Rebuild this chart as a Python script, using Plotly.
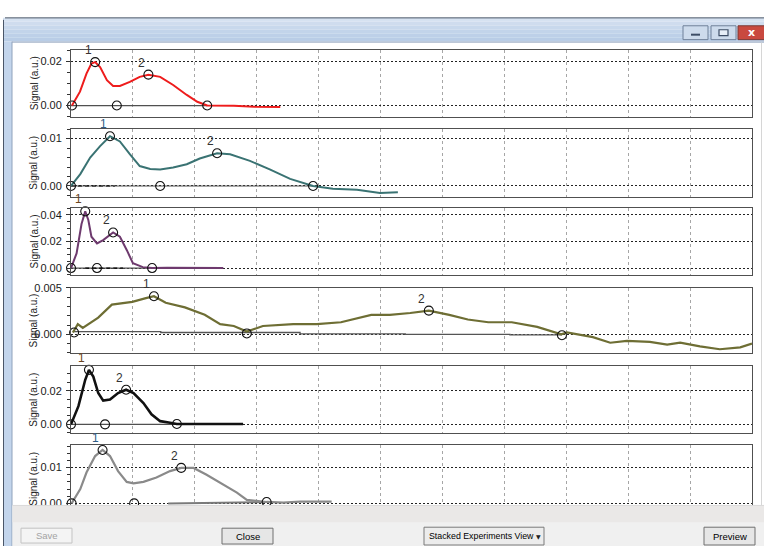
import plotly.graph_objects as go

W, H = 764, 546

# ---------------- data ----------------
# Panel 1 (red)
p1_x = [0.016, 0.145, 0.25, 0.33, 0.39, 0.47, 0.58, 0.68, 0.79, 0.95, 1.11, 1.25, 1.44, 1.65, 1.87, 2.04, 2.2, 2.63, 2.96, 3.38]
p1_y = [0, 0.0063, 0.0145, 0.019, 0.0197, 0.0174, 0.0115, 0.0089, 0.0089, 0.0107, 0.013, 0.014, 0.013, 0.0093, 0.0048, 0.0017, 0.0, -0.0001, -0.0006, -0.0007]
p1_mx = [0.016, 0.39, 0.74, 1.25, 2.2]
p1_my = [0, 0.0197, 0, 0.014, 0]
p1_bx = [0, 2.2]
p1_by = [0, 0]

# Panel 2 (teal)
p2_x = [0.0, 0.15, 0.31, 0.47, 0.63, 0.79, 0.95, 1.11, 1.28, 1.44, 1.65, 1.87, 2.08, 2.36, 2.57, 2.89, 3.21, 3.54, 3.91, 4.23, 4.62, 4.99, 5.28]
p2_y = [0, 0.0025, 0.006, 0.0084, 0.0105, 0.0094, 0.0067, 0.0042, 0.0036, 0.0035, 0.0039, 0.0046, 0.0058, 0.0069, 0.0067, 0.0053, 0.0035, 0.0015, 0.0, -0.0006, -0.0008, -0.0015, -0.0013]
p2_mx = [0.0, 0.63, 1.44, 2.36, 3.91]
p2_my = [0, 0.0105, 0, 0.0069, 0]
p2_bx = [0, 3.91]
p2_by = [0, 0]
p2_dx = [0, 0.71]
p2_dy = [0, 0]

# Panel 3 (purple)
p3_x = [0, 0.09, 0.17, 0.23, 0.28, 0.33, 0.42, 0.52, 0.68, 0.79, 0.9, 1.0, 1.16, 1.31, 1.55, 1.87, 2.2, 2.46]
p3_y = [0, 0.011, 0.033, 0.0425, 0.036, 0.0235, 0.0185, 0.021, 0.0267, 0.0235, 0.0136, 0.0037, 0.0007, 0, 0.0002, 0, 0, 0]
p3_mx = [0, 0.23, 0.42, 0.68, 1.31]
p3_my = [0, 0.0425, 0, 0.0267, 0]
p3_bx = [0, 1.31]
p3_by = [0, 0]
p3_dx = [0.23, 0.84]
p3_dy = [0, 0]

# Panel 4 (olive)
p4_x = [0.03, 0.11, 0.19, 0.44, 0.66, 0.99, 1.21, 1.34, 1.53, 1.84, 2.16, 2.41, 2.63, 2.84, 3.10, 3.59, 3.97, 4.36, 4.85, 5.15, 5.48, 5.78, 6.11, 6.41, 6.74, 7.12, 7.53, 7.92, 8.01, 8.43, 8.71, 8.98, 9.35, 9.63, 9.84, 10.16, 10.48, 10.81, 11.0]
p4_y = [0.0002, 0.0011, 0.0007, 0.0018, 0.0032, 0.0035, 0.0039, 0.0041, 0.0034, 0.0029, 0.0021, 0.0011, 0.0009, 0.0003, 0.0009, 0.0011, 0.0011, 0.0013, 0.0021, 0.0021, 0.0023, 0.00255, 0.0021, 0.0016, 0.0013, 0.0013, 0.0008, 0.0, 0.0002, -0.0003, -0.0009, -0.0007, -0.0008, -0.0011, -0.0009, -0.0013, -0.0016, -0.0014, -0.001]
p4_mx = [0.05, 1.34, 2.84, 5.78, 7.93]
p4_my = [0.0002, 0.0041, 0.0001, 0.00255, -0.0001]
p4_bx = [0.03, 1.45, 3.7, 5.4, 7.09, 7.93]
p4_by = [0.0003, 0.0002, 0.00005, 0.0, -0.00005, -0.00005]

# Panel 5 (black)
p5_x = [0, 0.12, 0.23, 0.29, 0.36, 0.44, 0.52, 0.63, 0.76, 0.89, 1.01, 1.17, 1.3, 1.44, 1.6, 1.71, 1.98, 2.35, 2.78]
p5_y = [0, 0.0108, 0.0265, 0.0324, 0.0284, 0.0186, 0.0141, 0.0147, 0.0186, 0.0206, 0.0186, 0.0127, 0.006, 0.0019, 0.0009, 0.0002, 0.0002, 0.0002, 0.0002]
p5_mx = [0, 0.29, 0.55, 0.89, 1.71]
p5_my = [0, 0.0324, 0, 0.0206, 0.0002]
p5_bx = [0, 1.71]
p5_by = [0, 0]

# Panel 6 (gray)
p6_x = [0.01, 0.15, 0.25, 0.39, 0.51, 0.63, 0.76, 0.9, 1.01, 1.17, 1.38, 1.6, 1.78, 1.98, 2.19, 2.46, 2.68, 2.84, 3.0, 3.16, 3.43, 3.7, 3.97, 4.21]
p6_y = [0, 0.004, 0.0086, 0.0132, 0.0149, 0.0132, 0.009, 0.006, 0.0056, 0.006, 0.0072, 0.009, 0.0099, 0.0099, 0.008, 0.0053, 0.003, 0.001, 0.0006, 0.0004, 0.0002, 0.0005, 0.0005, 0.0005]
p6_mx = [0.01, 0.51, 1.02, 1.78, 3.16]
p6_my = [0, 0.0149, 0, 0.0099, 0.0004]
p6_bx = [1.57, 2.62, 3.16]
p6_by = [0, 0.0002, 0.0004]

peak_labels = ["1", "2"]
y_ranges = [[-0.0051, 0.0254], [-0.0023, 0.0121], [-0.0052, 0.0452],
            [-0.00202, 0.005], [-0.0053, 0.0347], [-0.0025, 0.01625]]
y_tickvals = [[0, 0.02], [0, 0.01], [0, 0.02, 0.04], [0, 0.005], [0, 0.02], [0, 0.01]]
y_ticktext = [["0.00", "0.02"], ["0.00", "0.01"], ["0.00", "0.02", "0.04"],
              ["0.000", "0.005"], ["0.00", "0.02"], ["0.00", "0.01"]]
y_minor = [0.005, 0.002, 0.005, 0.001, 0.005, 0.002]
x_range = [0, 11]
ylabel = "Signal (a.u.)"

# ---------------- styling / layout ----------------
colors = ["#ee1c1c", "#3a7373", "#6e3a6e", "#6e6e34", "#111111", "#8a8a8a"]
widths = [2, 2, 2, 2.2, 2.6, 2.2]
label1_colors = ["#3a3030", "#2f5c86", "#6a4420", "#333333", "#6a4420", "#2f5c86"]
panels_px = [(44, 112), (124, 193), (204, 272), (285, 351), (364, 432), (444, 512)]
X0, X1 = 71, 752

def px(x):
    return x / W

def py(y):
    return 1 - y / H

panels = [
    (p1_x, p1_y, p1_mx, p1_my, p1_bx, p1_by, None, None),
    (p2_x, p2_y, p2_mx, p2_my, p2_bx, p2_by, p2_dx, p2_dy),
    (p3_x, p3_y, p3_mx, p3_my, p3_bx, p3_by, p3_dx, p3_dy),
    (p4_x, p4_y, p4_mx, p4_my, p4_bx, p4_by, None, None),
    (p5_x, p5_y, p5_mx, p5_my, p5_bx, p5_by, None, None),
    (p6_x, p6_y, p6_mx, p6_my, p6_bx, p6_by, None, None),
]

fig = go.Figure()
annotations = []
layout = {}
for i, (xs, ys, mx, my, bx, by, dx, dy) in enumerate(panels):
    n = i + 1
    xa = "x" if n == 1 else f"x{n}"
    ya = "y" if n == 1 else f"y{n}"
    # baseline
    if i == 3:
        fig.add_trace(go.Scatter(x=bx, y=by, xaxis=xa, yaxis=ya, mode="lines",
                                 line=dict(color="#555555", width=1.3, shape="hv"),
                                 showlegend=False, hoverinfo="skip"))
    elif i == 5:
        fig.add_trace(go.Scatter(x=bx, y=by, xaxis=xa, yaxis=ya, mode="lines",
                                 line=dict(color="#7a7a7a", width=2),
                                 showlegend=False, hoverinfo="skip"))
    else:
        fig.add_trace(go.Scatter(x=bx, y=by, xaxis=xa, yaxis=ya, mode="lines",
                                 line=dict(color="#505050", width=1.2),
                                 showlegend=False, hoverinfo="skip"))
    if dx is not None:
        fig.add_trace(go.Scatter(x=dx, y=dy, xaxis=xa, yaxis=ya, mode="lines",
                                 line=dict(color="#000000", width=1.2, dash="4px,3px"),
                                 showlegend=False, hoverinfo="skip"))
    # signal
    fig.add_trace(go.Scatter(x=xs, y=ys, xaxis=xa, yaxis=ya, mode="lines",
                             line=dict(color=colors[i], width=widths[i]),
                             showlegend=False, hoverinfo="skip"))
    # circles
    fig.add_trace(go.Scatter(x=mx, y=my, xaxis=xa, yaxis=ya, mode="markers",
                             marker=dict(symbol="circle-open", size=9, color="#111111",
                                         line=dict(width=1.1, color="#111111")),
                             cliponaxis=False, showlegend=False, hoverinfo="skip"))
    # peak numbers
    for k, idx in enumerate([1, 3]):
        annotations.append(dict(x=mx[idx], y=my[idx], xref=xa, yref=ya,
                                text=peak_labels[k], showarrow=False,
                                xanchor="center", yanchor="middle",
                                xshift=-7, yshift=12,
                                font=dict(family="Liberation Sans", size=12,
                                          color=label1_colors[i] if k == 0 else "#333333")))
    top, bot = panels_px[i]
    layout["xaxis" if n == 1 else f"xaxis{n}"] = dict(
        domain=[px(X0), px(X1)], range=x_range, anchor=ya,
        showticklabels=False, ticks="", showgrid=True, dtick=1, tick0=0,
        gridcolor="#a6a6a6", griddash="3px,3px", gridwidth=1, zeroline=False,
        showline=True, mirror=True, linecolor="#505050", linewidth=1)
    layout["yaxis" if n == 1 else f"yaxis{n}"] = dict(
        domain=[py(bot), py(top)], range=y_ranges[i], anchor=xa,
        tickmode="array", tickvals=y_tickvals[i], ticktext=y_ticktext[i],
        ticks="outside", ticklen=4, tickcolor="#333333", tickwidth=1,
        ticklabelstandoff=2,
        minor=dict(dtick=y_minor[i], tick0=0, ticks="outside", ticklen=3,
                   tickcolor="#333333", showgrid=False),
        showgrid=True, gridcolor="#222222", griddash="2px,2px", gridwidth=1,
        zeroline=False, showline=True, mirror=True, linecolor="#505050", linewidth=1,
        tickfont=dict(family="Liberation Sans", size=11, color="#1a1a1a"))
    annotations.append(dict(x=px(34), y=py((top + bot) / 2), xref="paper", yref="paper",
                            text=ylabel, textangle=-90, showarrow=False,
                            xanchor="center", yanchor="middle",
                            font=dict(family="Liberation Sans", size=10, color="#222222")))

# ---------------- window chrome ----------------
shapes = []

def rect(x0, y0, x1, y1, fill, line=None, lw=1, layer="above"):
    shapes.append(dict(type="rect", xref="paper", yref="paper",
                       x0=px(x0), x1=px(x1), y0=py(y1), y1=py(y0),
                       fillcolor=fill, layer=layer,
                       line=dict(color=line if line else fill, width=lw if line else 0)))

def hline(x0, x1, y, color, lw=1, layer="above"):
    shapes.append(dict(type="line", xref="paper", yref="paper",
                       x0=px(x0), x1=px(x1), y0=py(y), y1=py(y), layer=layer,
                       line=dict(color=color, width=lw)))

def vline(x, y0, y1, color, lw=1, layer="above"):
    shapes.append(dict(type="line", xref="paper", yref="paper",
                       x0=px(x), x1=px(x), y0=py(y0), y1=py(y1), layer=layer,
                       line=dict(color=color, width=lw)))

# title bar (stacked stripes to fake a gradient)
stripe_cols = ["#d6e2f1", "#cfdcee", "#c8d8ec", "#c2d4ea", "#bdd0e8", "#b9cde6"]
for k, c in enumerate(stripe_cols):
    rect(3, 12 + 4 * k, 766, 16 + 4 * k, c)
# left frame
rect(3, 36, 12, 548, "#c3d5ec")
# outer border
hline(5, 766, 12, "#4a5668", 1)
vline(3.5, 14, 548, "#4a5668", 1)
# inner border
hline(12, 766, 36.5, "#8fa2bc", 1)
vline(12, 36, 548, "#8fa2bc", 1)
vline(761.5, 37, 505, "#d6d6d6", 1)

# bottom gray bar
rect(12.5, 505, 766, 548, "#f0f0f0")
rect(12.5, 505, 766, 522, "#eae8e7")
hline(12.5, 766, 505, "#d9d9d9", 1)

# window buttons
rect(683, 20, 708, 34, "#cddbec", "#6f8099", 1)
rect(711, 20, 736, 34, "#cddbec", "#6f8099", 1)
rect(738, 20, 766, 34, "#c9493f", "#7a3a36", 1)
hline(691, 700, 29, "#3d4d66", 2)
rect(719, 24, 728, 30, "#e6eef8", "#3d4d66", 1.2)

# bottom buttons
rect(21, 528, 72, 543, "#f4f4f4", "#c3c3c3", 1)
rect(222, 528, 273, 544, "#e6e6e6", "#707070", 1)
rect(424, 527, 544, 545, "#ececec", "#7a7a7a", 1)
rect(704, 527, 755, 545, "#e6e6e6", "#707070", 1)

ui_font = "Liberation Sans"
btn_text = [("Save", 46.5, 535.5, "#a3a3a3"), ("Close", 247.5, 536, "#000000"),
            ("Preview", 729.5, 536, "#000000")]
for t, xc, yc, c in btn_text:
    annotations.append(dict(x=px(xc), y=py(yc), xref="paper", yref="paper", text=t,
                            xanchor="center", yanchor="middle",
                            showarrow=False, font=dict(family=ui_font, size=9.5, color=c)))
annotations.append(dict(x=px(427), y=py(536), xref="paper", yref="paper",
                        text="Stacked Experiments View", xanchor="left", yanchor="middle",
                        showarrow=False,
                        font=dict(family=ui_font, size=8.8, color="#000000")))
annotations.append(dict(x=px(538), y=py(536), xref="paper", yref="paper",
                        text="▼", showarrow=False, xanchor="center", yanchor="middle",
                        font=dict(family="DejaVu Sans", size=6, color="#222222")))
annotations.append(dict(x=px(751), y=py(27), xref="paper", yref="paper",
                        text="<b>x</b>", showarrow=False, xanchor="center", yanchor="middle",
                        font=dict(family="DejaVu Sans", size=11, color="#ffffff")))

fig.update_layout(
    width=W, height=H, autosize=False,
    margin=dict(l=0, r=0, t=0, b=0, pad=0),
    paper_bgcolor="#ffffff", plot_bgcolor="#ffffff",
    shapes=shapes, annotations=annotations, showlegend=False,
    **layout)

fig.write_html("out.html", config={"displayModeBar": False},
               post_script="document.body.style.margin='0';document.body.style.overflow='hidden';")
